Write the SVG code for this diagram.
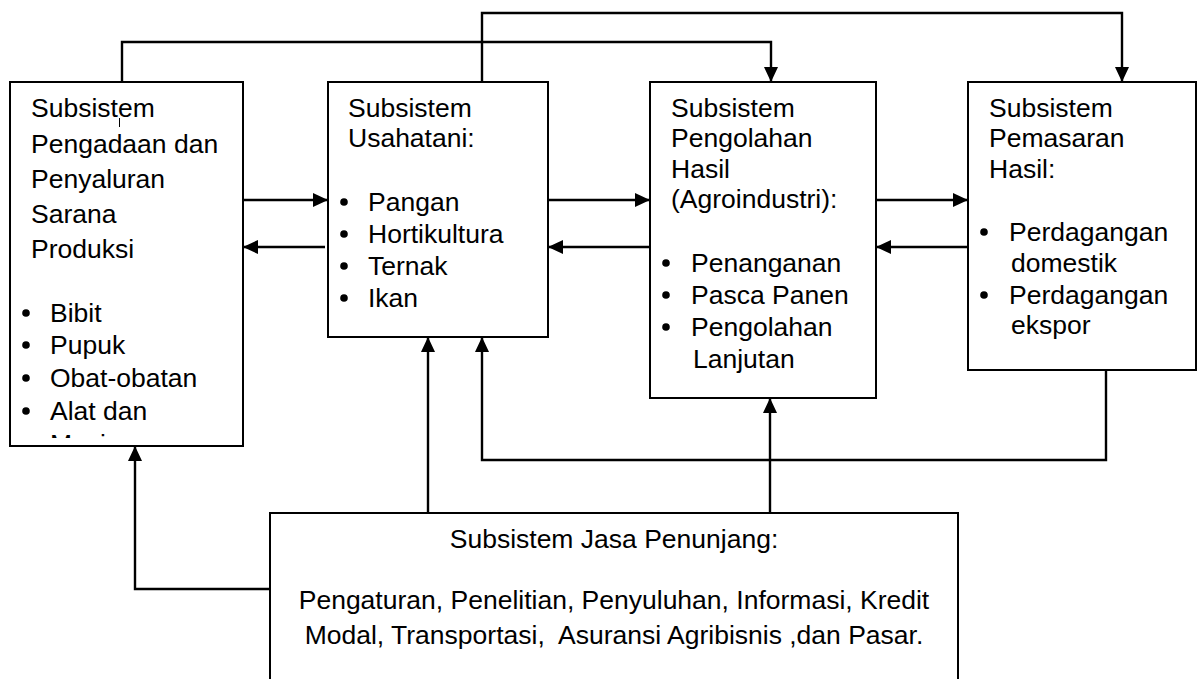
<svg xmlns="http://www.w3.org/2000/svg" width="1202" height="679" viewBox="0 0 1202 679">
<style>
.box{fill:#fff;stroke:#000;stroke-width:2}
.t{font-family:"Liberation Sans",Arial,sans-serif;font-size:26.5px;fill:#000}
.c{text-anchor:middle;white-space:pre}
.ln{fill:none;stroke:#000;stroke-width:2.4}
.b{fill:#000}
</style>
<defs>
<marker id="ah" markerUnits="userSpaceOnUse" markerWidth="16" markerHeight="15" refX="15" refY="7" orient="auto">
<path d="M0,0 L15,7 L0,14 Z" fill="#000"/>
</marker>
<clipPath id="clip1"><rect x="10" y="82" width="233" height="356"/></clipPath>
</defs>
<rect width="1202" height="679" fill="#fff"/>

<g id="connectors">
<path class="ln" d="M122,82 V42 H771 V82" marker-end="url(#ah)"/>
<path class="ln" d="M482,82 V13 H1122 V82" marker-end="url(#ah)"/>
<path class="ln" d="M243,200 H328" marker-end="url(#ah)"/>
<path class="ln" d="M325,247 H243" marker-end="url(#ah)"/>
<path class="ln" d="M548,200 H650" marker-end="url(#ah)"/>
<path class="ln" d="M650,247 H548" marker-end="url(#ah)"/>
<path class="ln" d="M876,200 H968" marker-end="url(#ah)"/>
<path class="ln" d="M968,247 H876" marker-end="url(#ah)"/>
<path class="ln" d="M428,513 V337" marker-end="url(#ah)"/>
<path class="ln" d="M1106,370 V460 H482 V337" marker-end="url(#ah)"/>
<path class="ln" d="M770,513 V398" marker-end="url(#ah)"/>
<path class="ln" d="M270,589 H135 V446" marker-end="url(#ah)"/>
</g>

<g id="node-pengadaan">
<rect class="box" x="10" y="82" width="233" height="364"/>
<line x1="119.5" y1="118" x2="119.5" y2="127" stroke="#000" stroke-width="1"/>
<text class="t" x="31" y="117">Subsistem</text>
<text class="t" x="31" y="153">Pengadaan dan</text>
<text class="t" x="31" y="188">Penyaluran</text>
<text class="t" x="31" y="223">Sarana</text>
<text class="t" x="31" y="258">Produksi</text>
<circle class="b" cx="26" cy="313" r="3.8"/>
<text class="t" x="50" y="322">Bibit</text>
<circle class="b" cx="26" cy="345" r="3.8"/>
<text class="t" x="50" y="354">Pupuk</text>
<circle class="b" cx="26" cy="378" r="3.8"/>
<text class="t" x="50" y="387">Obat-obatan</text>
<circle class="b" cx="26" cy="411" r="3.8"/>
<text class="t" x="50" y="420">Alat dan</text>
<g clip-path="url(#clip1)"><text class="t" x="50" y="453">Mesin</text></g>
</g>

<g id="node-usahatani">
<rect class="box" x="328" y="82" width="220" height="255"/>
<text class="t" x="348" y="117">Subsistem</text>
<text class="t" x="348" y="147">Usahatani:</text>
<circle class="b" cx="344" cy="202" r="3.8"/>
<text class="t" x="368" y="211">Pangan</text>
<circle class="b" cx="344" cy="234" r="3.8"/>
<text class="t" x="368" y="243">Hortikultura</text>
<circle class="b" cx="344" cy="266" r="3.8"/>
<text class="t" x="368" y="275">Ternak</text>
<circle class="b" cx="344" cy="298" r="3.8"/>
<text class="t" x="368" y="307">Ikan</text>
</g>

<g id="node-pengolahan">
<rect class="box" x="650" y="82" width="226" height="316"/>
<text class="t" x="671" y="117">Subsistem</text>
<text class="t" x="671" y="147">Pengolahan</text>
<text class="t" x="671" y="178">Hasil</text>
<text class="t" x="671" y="208">(Agroindustri):</text>
<circle class="b" cx="666" cy="263" r="3.8"/>
<text class="t" x="691" y="272">Penanganan</text>
<circle class="b" cx="666" cy="295" r="3.8"/>
<text class="t" x="691" y="304">Pasca Panen</text>
<circle class="b" cx="666" cy="327" r="3.8"/>
<text class="t" x="691" y="336">Pengolahan</text>
<text class="t" x="693" y="368">Lanjutan</text>
</g>

<g id="node-pemasaran">
<rect class="box" x="968" y="82" width="228" height="288"/>
<text class="t" x="989" y="117">Subsistem</text>
<text class="t" x="989" y="147">Pemasaran</text>
<text class="t" x="989" y="178">Hasil:</text>
<circle class="b" cx="984" cy="232" r="3.8"/>
<text class="t" x="1009" y="241">Perdagangan</text>
<text class="t" x="1011" y="272">domestik</text>
<circle class="b" cx="984" cy="295" r="3.8"/>
<text class="t" x="1009" y="304">Perdagangan</text>
<text class="t" x="1011" y="334">ekspor</text>
</g>

<g id="node-jasa">
<rect class="box" x="270" y="513" width="688" height="190"/>
<text class="t c" x="614" y="548">Subsistem Jasa Penunjang:</text>
<text class="t c" x="614" y="609">Pengaturan, Penelitian, Penyuluhan, Informasi, Kredit</text>
<text class="t c" x="614" y="644">Modal, Transportasi,  Asuransi Agribisnis ,dan Pasar.</text>
</g>
</svg>
